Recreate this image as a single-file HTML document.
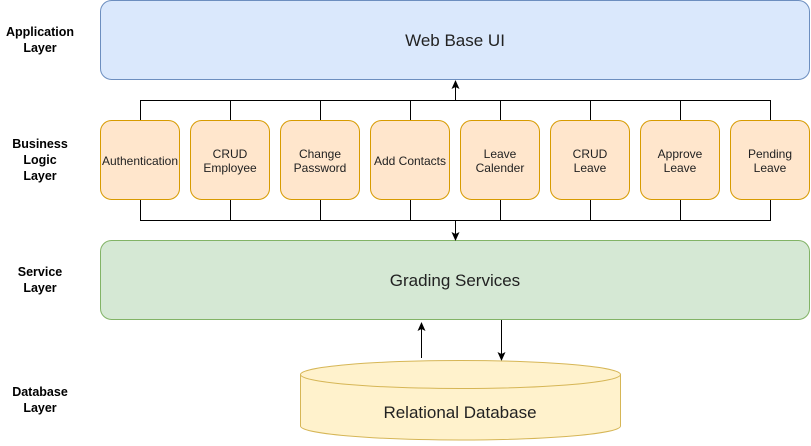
<!DOCTYPE html>
<html><head><style>
body{margin:0;width:811px;height:441px;background:#fff;overflow:hidden}
svg text{font-family:"Liberation Sans",Arial,sans-serif}
</style></head><body>
<svg width="811" height="441" viewBox="0 0 811 441" xmlns="http://www.w3.org/2000/svg">
<defs><marker id="a" markerWidth="10" markerHeight="10" refX="8" refY="4.5" orient="auto" markerUnits="userSpaceOnUse"><path d="M0,0.5 L9,4.5 L0,8.5 L2,4.5 Z" fill="#000"/></marker></defs>
<g font-size="12.5" font-weight="bold" text-anchor="middle" fill="#000">
<text x="40" y="36">Application</text><text x="40" y="52">Layer</text>
<text x="40" y="148">Business</text><text x="40" y="164">Logic</text><text x="40" y="180">Layer</text>
<text x="40" y="276">Service</text><text x="40" y="292">Layer</text>
<text x="40" y="396">Database</text><text x="40" y="412">Layer</text>
</g>
<rect x="100.5" y="0.5" width="709" height="79" rx="11" fill="#dae8fc" stroke="#6c8ebf"/>
<text x="455" y="46" font-size="17" text-anchor="middle" fill="#222">Web Base UI</text>
<rect x="100.5" y="240.5" width="709" height="79" rx="11" fill="#d5e8d4" stroke="#82b366"/>
<text x="455" y="286" font-size="17" text-anchor="middle" fill="#222">Grading Services</text>
<g stroke="#000" fill="none">
<path d="M140.5 120V100.5H770.5V120M230.5 100V120M320.5 100V120M410.5 100V120M500.5 100V120M590.5 100V120M680.5 100V120"/>
<path d="M140.5 200V220.5H770.5V200M230.5 220V200M320.5 220V200M410.5 220V200M500.5 220V200M590.5 220V200M680.5 220V200"/>
<line x1="455.5" y1="100" x2="455.5" y2="81" marker-end="url(#a)"/>
<line x1="455.5" y1="220" x2="455.5" y2="240" marker-end="url(#a)"/>
<line x1="421.5" y1="358" x2="421.5" y2="323" marker-end="url(#a)"/>
<line x1="501.5" y1="320" x2="501.5" y2="360" marker-end="url(#a)"/>
</g>
<g fill="#ffe6cc" stroke="#d79b00">
<rect x="100.5" y="120.5" width="79" height="79" rx="11"/>
<rect x="190.5" y="120.5" width="79" height="79" rx="11"/>
<rect x="280.5" y="120.5" width="79" height="79" rx="11"/>
<rect x="370.5" y="120.5" width="79" height="79" rx="11"/>
<rect x="460.5" y="120.5" width="79" height="79" rx="11"/>
<rect x="550.5" y="120.5" width="79" height="79" rx="11"/>
<rect x="640.5" y="120.5" width="79" height="79" rx="11"/>
<rect x="730.5" y="120.5" width="79" height="79" rx="11"/>
</g>
<g font-size="12" text-anchor="middle" fill="#222">
<text x="140" y="165">Authentication</text>
<text x="230" y="158">CRUD</text><text x="230" y="172">Employee</text>
<text x="320" y="158">Change</text><text x="320" y="172">Password</text>
<text x="410" y="165">Add Contacts</text>
<text x="500" y="158">Leave</text><text x="500" y="172">Calender</text>
<text x="590" y="158">CRUD</text><text x="590" y="172">Leave</text>
<text x="680" y="158">Approve</text><text x="680" y="172">Leave</text>
<text x="770" y="158">Pending</text><text x="770" y="172">Leave</text>
</g>
<path d="M300.5 374.5A160 14 0 0 1 620.5 374.5V426A160 14 0 0 1 300.5 426Z" fill="#fff2cc" stroke="#d6b656"/>
<path d="M300.5 374.5A160 14 0 0 0 620.5 374.5" fill="none" stroke="#d6b656"/>
<text x="460" y="418" font-size="17" text-anchor="middle" fill="#222">Relational Database</text>
</svg>
</body></html>
